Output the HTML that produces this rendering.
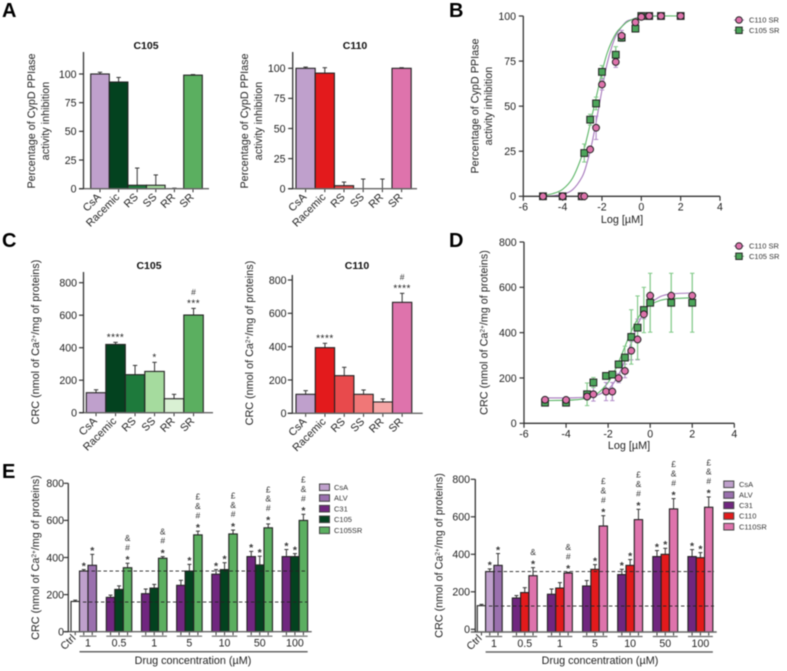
<!DOCTYPE html>
<html lang="en">
<head>
<meta charset="utf-8">
<title>CypD PPIase inhibition and CRC charts</title>
<style>
html,body{margin:0;padding:0;background:#fff;}
#figure{display:block;filter:blur(0.45px);font-family:"Liberation Sans",Arial,sans-serif;fill:#222;}
.ttl{font-size:10.8px;}
.lgd{font-size:7.5px;fill:#333;}
.letter{font-size:20px;font-weight:bold;fill:#000;}
.ptitle{font-size:10.5px;font-weight:bold;fill:#111;}
</style>
</head>
<body>
<svg id="figure" width="787" height="671" viewBox="0 0 787 671">
  <rect x="0" y="0" width="787" height="671" fill="#fff"/>

  <text class="letter" x="2" y="17">A</text>
  <text class="letter" x="449" y="17">B</text>
  <text class="letter" x="2" y="247">C</text>
  <text class="letter" x="449" y="247">D</text>
  <text class="letter" x="2" y="478">E</text>

  <text class="ptitle" x="146" y="49" text-anchor="middle">C105</text>
  <text class="ptitle" x="355" y="49" text-anchor="middle">C110</text>
  <text class="ptitle" x="149" y="269" text-anchor="middle">C105</text>
  <text class="ptitle" x="357" y="269" text-anchor="middle">C110</text>

  <g>
    <text class="ttl" transform="translate(35,121) rotate(-90)" text-anchor="middle">Percentage of CypD PPIase</text>
    <text class="ttl" transform="translate(49,121) rotate(-90)" text-anchor="middle">activity inhibition</text>
  </g>
  <g>
    <text class="ttl" transform="translate(248,121) rotate(-90)" text-anchor="middle">Percentage of CypD PPIase</text>
    <text class="ttl" transform="translate(262,121) rotate(-90)" text-anchor="middle">activity inhibition</text>
  </g>
  <g>
    <text class="ttl" transform="translate(478.5,106) rotate(-90)" text-anchor="middle">Percentage of CypD PPIase</text>
    <text class="ttl" transform="translate(492,106) rotate(-90)" text-anchor="middle">activity inhibition</text>
  </g>
  <text class="ttl" transform="translate(39,342) rotate(-90)" text-anchor="middle">CRC (nmol of Ca<tspan dy="-3" font-size="6.5">2+</tspan><tspan dy="3">/mg of proteins)</tspan></text>
  <text class="ttl" transform="translate(253,343) rotate(-90)" text-anchor="middle">CRC (nmol of Ca<tspan dy="-3" font-size="6.5">2+</tspan><tspan dy="3">/mg of proteins)</tspan></text>
  <text class="ttl" transform="translate(487.5,332.5) rotate(-90)" text-anchor="middle">CRC (nmol of Ca<tspan dy="-3" font-size="6.5">2+</tspan><tspan dy="3">/mg of proteins)</tspan></text>
  <text class="ttl" transform="translate(39,557.5) rotate(-90)" text-anchor="middle">CRC (nmol of Ca<tspan dy="-3" font-size="6.5">2+</tspan><tspan dy="3">/mg of proteins)</tspan></text>
  <text class="ttl" transform="translate(442.5,555.5) rotate(-90)" text-anchor="middle">CRC (nmol of Ca<tspan dy="-3" font-size="6.5">2+</tspan><tspan dy="3">/mg of proteins)</tspan></text>

  <text class="ttl" x="622" y="223" text-anchor="middle">Log [µM]</text>
  <text class="ttl" x="629" y="449" text-anchor="middle">Log [µM]</text>
  <text class="ttl" x="193" y="664" text-anchor="middle">Drug concentration (µM)</text>
  <text class="ttl" x="600" y="664" text-anchor="middle">Drug concentration (µM)</text>

  <g>
    <g>
      <line x1="734" x2="744" y1="20" y2="20" stroke="#A678BC" stroke-width="1"/>
      <circle cx="739" cy="20" r="3.3" fill="#DE73AC" stroke="#222" stroke-width="1"/>
      <text class="lgd" x="749" y="22.7">C110 SR</text>
    </g>
    <g>
      <line x1="734" x2="744" y1="30.3" y2="30.3" stroke="#5BB566" stroke-width="1"/>
      <rect x="735.8" y="27.1" width="6.4" height="6.4" fill="#4CA55A" stroke="#222" stroke-width="1"/>
      <text class="lgd" x="749" y="33">C105 SR</text>
    </g>
  </g>
  <g>
    <g>
      <line x1="734" x2="744" y1="246" y2="246" stroke="#A678BC" stroke-width="1"/>
      <circle cx="739" cy="246" r="3.3" fill="#DE73AC" stroke="#222" stroke-width="1"/>
      <text class="lgd" x="749" y="248.7">C110 SR</text>
    </g>
    <g>
      <line x1="734" x2="744" y1="256.3" y2="256.3" stroke="#5BB566" stroke-width="1"/>
      <rect x="735.8" y="253.1" width="6.4" height="6.4" fill="#4CA55A" stroke="#222" stroke-width="1"/>
      <text class="lgd" x="749" y="259">C105 SR</text>
    </g>
  </g>
  <g>
    <g><rect x="319.5" y="484" width="10" height="6.6" fill="#BFA0CC" stroke="#444"/><text class="lgd" x="334" y="490">CsA</text></g>
    <g><rect x="319.5" y="494.7" width="10" height="6.6" fill="#9A70AE" stroke="#444"/><text class="lgd" x="334" y="500.7">ALV</text></g>
    <g><rect x="319.5" y="505.4" width="10" height="6.6" fill="#70267F" stroke="#444"/><text class="lgd" x="334" y="511.4">C31</text></g>
    <g><rect x="319.5" y="516" width="10" height="6.6" fill="#03421F" stroke="#444"/><text class="lgd" x="334" y="522">C105</text></g>
    <g><rect x="319.5" y="527" width="10" height="6.6" fill="#5BAF60" stroke="#444"/><text class="lgd" x="334" y="533">C105SR</text></g>
  </g>
  <g>
    <g><rect x="723.8" y="481" width="10" height="6.6" fill="#BFA0CC" stroke="#444"/><text class="lgd" x="739" y="487">CsA</text></g>
    <g><rect x="723.8" y="491.7" width="10" height="6.6" fill="#9A70AE" stroke="#444"/><text class="lgd" x="739" y="497.7">ALV</text></g>
    <g><rect x="723.8" y="502" width="10" height="6.6" fill="#70267F" stroke="#444"/><text class="lgd" x="739" y="508">C31</text></g>
    <g><rect x="723.8" y="512.7" width="10" height="6.6" fill="#E31A1C" stroke="#444"/><text class="lgd" x="739" y="518.7">C110</text></g>
    <g><rect x="723.8" y="523.4" width="10" height="6.6" fill="#DE73AC" stroke="#444"/><text class="lgd" x="739" y="529.4">C110SR</text></g>
  </g>
</svg>

<script>
/* ---------- Panel A / C data ---------- */
const isomerLabels = ['CsA', 'Racemic', 'RS', 'SS', 'RR', 'SR'];
const inhibitionTicks = [0, 25, 50, 75, 100];
const crcTicks = [0, 200, 400, 600, 800];

const aC105Values = [100, 93, 3, 3, 0, 99];
const aC105Errors = [1.5, 4, 15, 9, 0.5, 0.5];
const aC110Values = [100, 96, 2.5, 0, 0, 100];
const aC110Errors = [1, 4.5, 3, 8, 8, 0.5];

const cC105Values = [123, 420, 234, 254, 86, 601];
const cC105Errors = [18, 13, 57, 56, 27, 41];
const cC105Stars = ['', '****', '', '*', '', '***'];
const cC105Hash = ['', '', '', '', '', '#'];
const cC110Values = [114, 394, 226, 114, 68, 666];
const cC110Errors = [22, 26, 50, 26, 18, 54];
const cC110Stars = ['', '****', '', '', '', '****'];
const cC110Hash = ['', '', '', '', '', '#'];

/* ---------- Panel B data ---------- */
const logDoseTicks = [-6, -4, -2, 0, 2, 4];
const bC110Doses = [-5, -4, -3.03, -2.9, -2.6, -2.3, -2, -1.3, -1, -0.3, 0, 0.4, 1, 2];
const bC110Values = [0, 0, 0, 0, 26, 38, 62, 74.5, 89, 96.5, 99.5, 100, 100, 100];
const bC110Errors = [0, 0, 0, 0, 1, 6.5, 3, 3, 3, 1, 1, 0.5, 0.5, 0.5];
const bC105Doses = [-5, -4, -3.03, -2.9, -2.6, -2.3, -2, -1.3, -1, -0.3, 0, 0.4, 1, 2];
const bC105Values = [0, 0, 0, 24, 42.5, 51.5, 69, 78.5, 88, 93, 100, 100, 100, 100];
const bC105Errors = [0, 0, 0, 5, 3, 3.5, 3.5, 4.5, 2, 1, 1, 0.5, 0.5, 0.5];
const bCurveDoses = [-5, -4.5, -4, -3.5, -3, -2.75, -2.5, -2.25, -2, -1.75, -1.5, -1.25, -1, -0.75, -0.5, -0.25, 0, 0.5, 1, 2];
const bC110Curve = [0.1, 0.3, 1.1, 3.6, 11, 19, 30, 44, 59, 73, 83, 90, 94, 97, 98, 99, 99.5, 100, 100, 100];
const bC105Curve = [0.5, 1.5, 3.9, 10, 23, 33, 45, 57, 69, 79, 86, 91, 94, 96.5, 97.9, 98.8, 99.2, 99.8, 100, 100];

/* ---------- Panel D data ---------- */
const dC110Doses = [-5, -4, -3, -2.7, -2.1, -1.8, -1.5, -1.2, -0.9, -0.6, -0.3, 0, 1, 2];
const dC110Values = [104, 103, 118, 128, 140, 140, 199, 231, 320, 370, 481, 563, 563, 563];
const dC110Errors = [5, 5, 10, 30, 40, 40, 20, 30, 40, 90, 20, 5, 5, 5];
const dC105Doses = [-5, -4, -3, -2.7, -2.1, -1.8, -1.5, -1.2, -0.9, -0.6, -0.3, 0, 1, 2];
const dC105Values = [91, 91, 128, 180, 209, 215, 260, 290, 381, 422, 500, 532, 532, 532];
const dC105Errors = [8, 8, 50, 22, 5, 10, 5, 50, 120, 140, 100, 130, 130, 130];
const dCurveDoses = [-5, -4, -3.5, -3, -2.5, -2, -1.75, -1.5, -1.25, -1, -0.75, -0.5, -0.25, 0, 0.5, 1, 2];
const dC110Curve = [112, 112, 113, 116, 125, 150, 176, 214, 266, 330, 396, 454, 498, 528, 560, 571, 575];
const dC105Curve = [100, 101.5, 104, 112, 132, 180, 220, 270, 327, 384, 434, 476, 504, 523, 543, 550, 554];

/* ---------- Panel E data ---------- */
const eDoseLabels = ['0.5', '1', '5', '10', '50', '100'];

const eLeftRef = [163, 327, 358];
const eLeftRefErrors = [7, 8, 59];
const eLeftRefMarks = ['', '*', '*'];
const eLeftBaselines = [160, 327];
const eLeftC31 = [185, 205, 250, 310, 405, 405];
const eLeftC31Errors = [12, 25, 27, 25, 28, 38];
const eLeftC31Marks = ['', '', '', '*', '*', '*'];
const eLeftDrug = [228, 235, 327, 335, 360, 405];
const eLeftDrugErrors = [19, 20, 36, 37, 47, 16];
const eLeftDrugMarks = ['', '', '*', '*', '*', '*'];
const eLeftSr = [345, 396, 522, 527, 560, 600];
const eLeftSrErrors = [24, 9, 20, 21, 21, 33];
const eLeftSrMarks = ['*#&', '*#&', '*#&£', '*#&£', '*#&£', '*#&£'];

const eRightRef = [126, 308, 341];
const eRightRefErrors = [7, 14, 63];
const eRightRefMarks = ['', '*', '*'];
const eRightBaselines = [124, 308];
const eRightC31 = [167, 187, 231, 292, 388, 388];
const eRightC31Errors = [13, 28, 29, 28, 32, 37];
const eRightC31Marks = ['', '', '', '*', '*', '*'];
const eRightDrug = [196, 220, 320, 341, 400, 382];
const eRightDrugErrors = [26, 29, 25, 31, 32, 27];
const eRightDrugMarks = ['', '', '*', '*', '*', '*'];
const eRightSr = [286, 300, 551, 585, 642, 651];
const eRightSrErrors = [43, 4, 55, 55, 55, 55];
const eRightSrMarks = ['*&', '*#&', '*#&£', '*#&£', '*#&£', '*#&£'];

/* ---------- Palettes ---------- */
const greenIsomerColors = ['#BFA0CC', '#03421F', '#1E7A3C', '#A5DB9E', '#D9F0D3', '#5BAF60'];
const redIsomerColors = ['#BFA0CC', '#E31A1C', '#E84A4C', '#F07777', '#F5A5A5', '#DE73AC'];

/* ---------- Helpers ---------- */
const root = document.getElementById('figure');

function mk(tag, attrs, parent) {
  const el = document.createElementNS(root.namespaceURI, tag);
  for (const k in attrs) el.setAttribute(k, attrs[k]);
  parent.appendChild(el);
  return el;
}

function linear(d0, d1, r0, r1) {
  return function (v) { return r0 + (v - d0) * (r1 - r0) / (d1 - d0); };
}

function drawYAxis(parent, y, ticks, x, topPx, bottomPx, labelRight) {
  const axis = mk('line', { x1: x, x2: x, y1: topPx, y2: bottomPx, stroke: '#333', 'stroke-width': 1.3 }, parent);
  
  
  ticks.forEach(function (t) {
    const tick = mk('line', { x1: x - 4.5, x2: x, y1: y(t), y2: y(t), stroke: '#333', 'stroke-width': 1.2 }, parent);
    
    
    const label = mk('text', { x: labelRight, y: y(t) + 3.8, 'text-anchor': 'end', 'font-size': 10.6 }, parent);
    label.textContent = t;
    
    
  });
}

function drawErrorBar(parent, x, yFrom, yTo, color, capHalf, width) {
  const stem = mk('line', { x1: x, x2: x, y1: yFrom, y2: yTo, stroke: color, 'stroke-width': width }, parent);
  
  
  const cap = mk('line', { x1: x - capHalf, x2: x + capHalf, y1: yTo, y2: yTo, stroke: color, 'stroke-width': width }, parent);
  
  
}

function drawIsomerPanel(cfg) {
  const g = mk('g', {}, root);
  
  
  const y = linear(0, cfg.domainTop, cfg.y0, cfg.yTopPx);
  cfg.values.forEach(function (v, i) {
    const x = cfg.x0 + i * cfg.bw;
    const cx = x + cfg.bw / 2;
    drawErrorBar(g, cx, y(v), y(v + cfg.errors[i]), '#333', 2.2, 1);
    if (v > 0) {
      const bar = mk('rect', { x: x, y: y(v), width: cfg.bw, height: Math.max(0, cfg.y0 - y(v)), fill: cfg.colors[i], stroke: '#222', 'stroke-width': 1.1 }, g);
      
      
    }
    const tick = mk('line', { x1: cx, x2: cx, y1: cfg.y0, y2: cfg.y0 + 3.5, stroke: '#333', 'stroke-width': 1 }, g);
    
    
    const label = mk('text', { transform: 'translate(' + (cx + 1.5) + ',' + (cfg.y0 + 9) + ') rotate(-45)', 'text-anchor': 'end', 'font-size': 10.8 }, g);
    label.textContent = cfg.labels[i];
    
    
    if (cfg.stars && cfg.stars[i]) {
      const top = y(v + cfg.errors[i]);
      const star = mk('text', { x: cx, y: top - 2, 'text-anchor': 'middle', 'font-size': 10, 'letter-spacing': 0.5 }, g);
      star.textContent = cfg.stars[i];
      
      
      if (cfg.hash[i]) {
        const hash = mk('text', { x: cx, y: top - 13.5, 'text-anchor': 'middle', 'font-size': 8.5, fill: '#333' }, g);
        hash.textContent = cfg.hash[i];
        
        
      }
    }
  });
  const xAxis = mk('line', { x1: cfg.axisX - 4.5, x2: cfg.xEnd, y1: cfg.y0, y2: cfg.y0, stroke: '#666', 'stroke-width': 1.4 }, g);
  
  
  drawYAxis(g, y, cfg.ticks, cfg.axisX, cfg.axisTop, cfg.y0, cfg.labelRight);
}

function smoothPath(pts) {
  let d = 'M' + pts[0][0] + ' ' + pts[0][1];
  for (let i = 0; i < pts.length - 1; i++) {
    const p0 = pts[Math.max(0, i - 1)], p1 = pts[i], p2 = pts[i + 1], p3 = pts[Math.min(pts.length - 1, i + 2)];
    const c1x = p1[0] + (p2[0] - p0[0]) / 6, c1y = p1[1] + (p2[1] - p0[1]) / 6;
    const c2x = p2[0] - (p3[0] - p1[0]) / 6, c2y = p2[1] - (p3[1] - p1[1]) / 6;
    d += ' C' + c1x + ' ' + c1y + ' ' + c2x + ' ' + c2y + ' ' + p2[0] + ' ' + p2[1];
  }
  return d;
}

function drawDosePanel(cfg) {
  const g = mk('g', {}, root);
  
  
  const x = linear(-6, 4, cfg.xLeft, cfg.xRight);
  const y = linear(0, cfg.domainTop, cfg.y0, cfg.yTopPx);

  const purpleCurve = mk('path', { d: smoothPath(cfg.curveDoses.map(function (d, i) { return [x(d), y(cfg.pinkCurve[i])]; })), fill: 'none', stroke: '#A678BC', 'stroke-width': 1.1 }, g);
  
  
  const greenCurve = mk('path', { d: smoothPath(cfg.curveDoses.map(function (d, i) { return [x(d), y(cfg.greenCurve[i])]; })), fill: 'none', stroke: '#5BB566', 'stroke-width': 1.1 }, g);
  
  

  cfg.pinkDoses.forEach(function (d, i) {
    const e = cfg.pinkErrors[i];
    if (e > 0) {
      drawErrorBar(g, x(d), y(cfg.pinkValues[i] - e), y(cfg.pinkValues[i] + e), '#B28CC8', 2.2, 1);
      drawErrorBar(g, x(d), y(cfg.pinkValues[i] + e), y(cfg.pinkValues[i] - e), '#B28CC8', 2.2, 1);
    }
  });
  cfg.greenDoses.forEach(function (d, i) {
    const e = cfg.greenErrors[i];
    if (e > 0) {
      drawErrorBar(g, x(d), y(cfg.greenValues[i] - e), y(cfg.greenValues[i] + e), '#80C987', 2.2, 1);
      drawErrorBar(g, x(d), y(cfg.greenValues[i] + e), y(cfg.greenValues[i] - e), '#80C987', 2.2, 1);
    }
  });

  const xAxis = mk('line', { x1: x(-6), x2: x(4), y1: cfg.y0, y2: cfg.y0, stroke: '#333', 'stroke-width': 1.3 }, g);
  
  
  cfg.xTicks.forEach(function (t) {
    const tick = mk('line', { x1: x(t), x2: x(t), y1: cfg.y0, y2: cfg.y0 + 4.5, stroke: '#333', 'stroke-width': 1.2 }, g);
    
    
    const label = mk('text', { x: x(t), y: cfg.y0 + 14.3, 'text-anchor': 'middle', 'font-size': 10.6 }, g);
    label.textContent = t;
    
    
  });
  drawYAxis(g, y, cfg.yTicks, x(-6), cfg.yTopPx, cfg.y0, cfg.labelRight);

  cfg.greenDoses.forEach(function (d, i) {
    const sq = mk('rect', { x: x(d) - 3.4, y: y(cfg.greenValues[i]) - 3.4, width: 6.8, height: 6.8, fill: '#4CA55A', stroke: '#222', 'stroke-width': 1 }, g);
    
    
  });
  cfg.pinkDoses.forEach(function (d, i) {
    const c = mk('circle', { cx: x(d), cy: y(cfg.pinkValues[i]), r: 3.4, fill: '#DE73AC', stroke: '#222', 'stroke-width': 1 }, g);
    
    
  });
}

function drawSymbolStack(parent, cx, topPx, chars) {
  Array.from(chars).forEach(function (ch, k) {
    const centre = topPx - 6.5 - k * 9.4;
    const isStar = ch === '*';
    const fs = isStar ? 10.5 : 8.5;
    const sym = mk('text', { x: cx, y: centre + (isStar ? 0.6 * fs : 0.36 * fs), 'text-anchor': 'middle', 'font-size': fs, 'font-weight': isStar ? 'bold' : 'normal', fill: '#333' }, parent);
    sym.textContent = ch;
    
    
  });
}

function drawDoseBar(parent, y, cfg, x, value, err, fill, name, marks) {
  const cx = x + cfg.bw / 2;
  drawErrorBar(parent, cx, y(value), y(value + err), '#333', 2, 1);
  const bar = mk('rect', { x: x, y: y(value), width: cfg.bw, height: Math.max(0, cfg.axisY - y(value)), fill: fill, stroke: '#222', 'stroke-width': 1.1 }, parent);
  
  
  const tick = mk('line', { x1: cx, x2: cx, y1: cfg.axisY, y2: cfg.axisY + 3.5, stroke: '#333', 'stroke-width': 1 }, parent);
  
  
  drawSymbolStack(parent, cx, y(value + err), marks);
}

function drawDosePanelE(cfg) {
  const g = mk('g', {}, root);
  
  
  const y = linear(0, 800, cfg.y0, cfg.y800);
  const refColors = ['#fff', '#BFA0CC', '#9A70AE'];
  const refNames = ['bar-ctrl', 'bar-csa', 'bar-alv'];

  cfg.ref.forEach(function (v, i) {
    drawDoseBar(g, y, cfg, cfg.refX + i * cfg.bw, v, cfg.refErrors[i], refColors[i], refNames[i], cfg.refMarks[i]);
  });
  cfg.doses.forEach(function (dose, gi) {
    const gx = cfg.groupX + gi * cfg.groupStep;
    drawDoseBar(g, y, cfg, gx, cfg.c31[gi], cfg.c31Errors[gi], '#70267F', 'bar-c31-' + dose, cfg.c31Marks[gi]);
    drawDoseBar(g, y, cfg, gx + cfg.bw, cfg.drug[gi], cfg.drugErrors[gi], cfg.drugColor, 'bar-drug-' + dose, cfg.drugMarks[gi]);
    drawDoseBar(g, y, cfg, gx + 2 * cfg.bw, cfg.sr[gi], cfg.srErrors[gi], cfg.srColor, 'bar-sr-' + dose, cfg.srMarks[gi]);
    const seg = mk('line', { x1: gx, x2: gx + 3 * cfg.bw, y1: cfg.axisY + 4.5, y2: cfg.axisY + 4.5, stroke: '#666', 'stroke-width': 1.2 }, g);
    
    
    const lab = mk('text', { x: gx + 1.5 * cfg.bw, y: cfg.axisY + 15, 'text-anchor': 'middle', 'font-size': 10.6 }, g);
    lab.textContent = dose;
    
    
  });

  const refSeg = mk('line', { x1: cfg.refX + cfg.bw, x2: cfg.refX + 3 * cfg.bw, y1: cfg.axisY + 4.5, y2: cfg.axisY + 4.5, stroke: '#666', 'stroke-width': 1.2 }, g);
  
  
  const refLab = mk('text', { x: cfg.refX + 2 * cfg.bw, y: cfg.axisY + 15, 'text-anchor': 'middle', 'font-size': 10.6 }, g);
  refLab.textContent = '1';
  
  
  const ctrl = mk('text', { transform: 'translate(' + (cfg.refX + cfg.bw / 2 + 1) + ',' + (cfg.axisY + 7) + ') rotate(-45)', 'text-anchor': 'end', 'font-size': 10.6 }, g);
  ctrl.textContent = 'Ctrl';
  
  
  const longLine = mk('line', { x1: cfg.refX + cfg.bw, x2: cfg.groupX + 5 * cfg.groupStep + 3 * cfg.bw, y1: cfg.axisY + 20, y2: cfg.axisY + 20, stroke: '#666', 'stroke-width': 1.5 }, g);
  
  

  const xAxis = mk('line', { x1: cfg.axisX - 4.5, x2: cfg.xEnd, y1: cfg.axisY, y2: cfg.axisY, stroke: '#666', 'stroke-width': 1.4 }, g);
  
  
  drawYAxis(g, y, cfg.ticks, cfg.axisX, cfg.y800, cfg.axisY, cfg.labelRight);

  const dashA = mk('line', { x1: cfg.refX + cfg.bw, x2: cfg.dashEnd, y1: y(cfg.baselines[1]), y2: y(cfg.baselines[1]), stroke: '#222', 'stroke-width': 0.9, 'stroke-dasharray': '3.5 2.5' }, g);
  
  
  const dashB = mk('line', { x1: cfg.refX + 1.4 * cfg.bw, x2: cfg.dashEnd, y1: y(cfg.baselines[0]), y2: y(cfg.baselines[0]), stroke: '#222', 'stroke-width': 0.9, 'stroke-dasharray': '3.5 2.5' }, g);
  
  
}

/* ---------- Render ---------- */
drawIsomerPanel({ name: 'a-c105-chart', labels: isomerLabels, values: aC105Values, errors: aC105Errors, colors: greenIsomerColors, ticks: inhibitionTicks, domainTop: 100, y0: 188.7, yTopPx: 74, axisTop: 52, axisX: 83.5, xEnd: 209, x0: 90.7, bw: 18.6, labelRight: 76.5 });
drawIsomerPanel({ name: 'a-c110-chart', labels: isomerLabels, values: aC110Values, errors: aC110Errors, colors: redIsomerColors, ticks: inhibitionTicks, domainTop: 100, y0: 188.7, yTopPx: 68.3, axisTop: 52, axisX: 292.7, xEnd: 417, x0: 296, bw: 19.2, labelRight: 285.5 });
drawIsomerPanel({ name: 'c-c105-chart', labels: isomerLabels, values: cC105Values, errors: cC105Errors, stars: cC105Stars, hash: cC105Hash, colors: greenIsomerColors, ticks: crcTicks, domainTop: 800, y0: 412.7, yTopPx: 282.7, axisTop: 272, axisX: 83.5, xEnd: 213, x0: 86.3, bw: 19.5, labelRight: 77 });
drawIsomerPanel({ name: 'c-c110-chart', labels: isomerLabels, values: cC110Values, errors: cC110Errors, stars: cC110Stars, hash: cC110Hash, colors: redIsomerColors, ticks: crcTicks, domainTop: 800, y0: 413.3, yTopPx: 280, axisTop: 275, axisX: 292.3, xEnd: 422.7, x0: 296, bw: 19.3, labelRight: 286.5 });

drawDosePanel({ name: 'b-dose-response-chart', xLeft: 523.3, xRight: 720, y0: 196.3, yTopPx: 16, domainTop: 100, xTicks: logDoseTicks, yTicks: inhibitionTicks, labelRight: 516,
  curveDoses: bCurveDoses, pinkCurve: bC110Curve, greenCurve: bC105Curve,
  pinkDoses: bC110Doses, pinkValues: bC110Values, pinkErrors: bC110Errors,
  greenDoses: bC105Doses, greenValues: bC105Values, greenErrors: bC105Errors });
drawDosePanel({ name: 'd-dose-response-chart', xLeft: 524, xRight: 734.3, y0: 423.3, yTopPx: 242, domainTop: 800, xTicks: logDoseTicks, yTicks: crcTicks, labelRight: 516.7,
  curveDoses: dCurveDoses, pinkCurve: dC110Curve, greenCurve: dC105Curve,
  pinkDoses: dC110Doses, pinkValues: dC110Values, pinkErrors: dC110Errors,
  greenDoses: dC105Doses, greenValues: dC105Values, greenErrors: dC105Errors });

drawDosePanelE({ name: 'e-c105-chart', y0: 631.7, y800: 483.3, axisY: 631.7, axisX: 68.3, xEnd: 311.7, labelRight: 64, refX: 71, groupX: 106.3, groupStep: 35.17, bw: 8.5, dashEnd: 307, ticks: crcTicks, doses: eDoseLabels,
  ref: eLeftRef, refErrors: eLeftRefErrors, refMarks: eLeftRefMarks, baselines: eLeftBaselines,
  c31: eLeftC31, c31Errors: eLeftC31Errors, c31Marks: eLeftC31Marks,
  drug: eLeftDrug, drugErrors: eLeftDrugErrors, drugMarks: eLeftDrugMarks, drugColor: '#03421F',
  sr: eLeftSr, srErrors: eLeftSrErrors, srMarks: eLeftSrMarks, srColor: '#5BAF60' });
drawDosePanelE({ name: 'e-c110-chart', y0: 629.3, y800: 479.3, axisY: 632, axisX: 475.3, xEnd: 716.7, labelRight: 470, refX: 477.3, groupX: 512.3, groupStep: 35.13, bw: 8.3, dashEnd: 714, ticks: crcTicks, doses: eDoseLabels,
  ref: eRightRef, refErrors: eRightRefErrors, refMarks: eRightRefMarks, baselines: eRightBaselines,
  c31: eRightC31, c31Errors: eRightC31Errors, c31Marks: eRightC31Marks,
  drug: eRightDrug, drugErrors: eRightDrugErrors, drugMarks: eRightDrugMarks, drugColor: '#E31A1C',
  sr: eRightSr, srErrors: eRightSrErrors, srMarks: eRightSrMarks, srColor: '#DE73AC' });
</script>
</body>
</html>
